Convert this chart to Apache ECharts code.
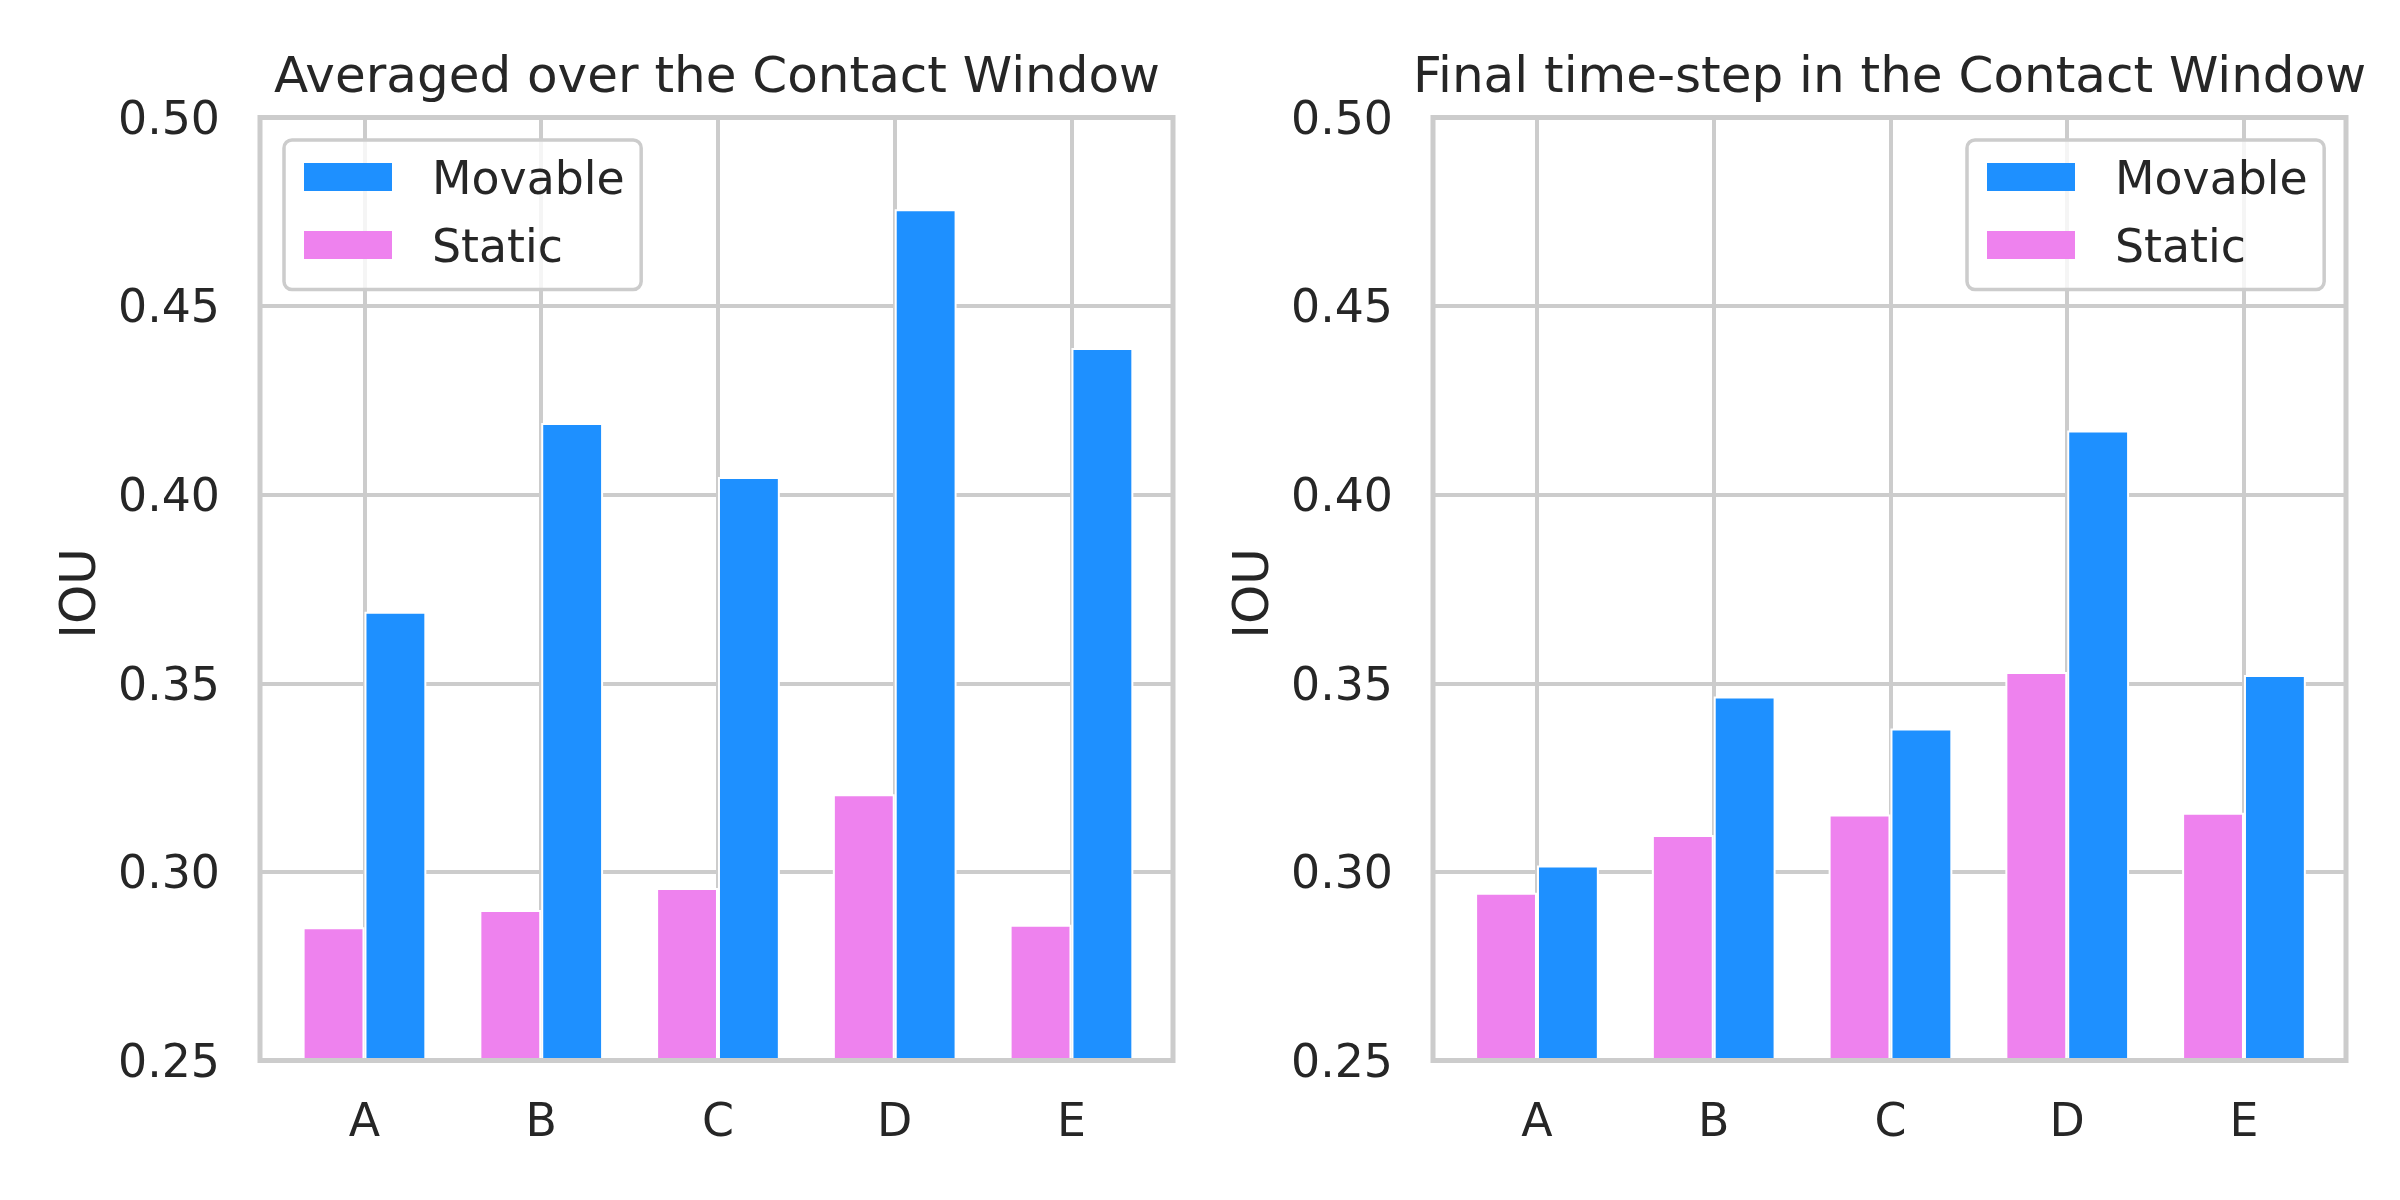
<!DOCTYPE html>
<html>
<head>
<meta charset="utf-8">
<script src="https://cdn.jsdelivr.net/npm/echarts@6/dist/echarts.min.js"></script>
<style>
html,body{margin:0;padding:0;background:#fff;}
#chart{width:2400px;height:1200px;}
</style>
</head>
<body>
<div id="chart"></div>
<script>
// ---- data ----
const categories = ['A', 'B', 'C', 'D', 'E'];
const avgMovable = [0.3690, 0.4190, 0.4047, 0.4757, 0.4389];
const avgStatic = [0.2853, 0.2899, 0.2957, 0.3206, 0.2860];
const finalMovable = [0.3017, 0.3465, 0.3380, 0.4170, 0.3522];
const finalStatic = [0.2945, 0.3098, 0.3152, 0.3530, 0.3157];
const yTicks = [0.25, 0.30, 0.35, 0.40, 0.45, 0.50];
const titles = ['Averaged over the Contact Window', 'Final time-step in the Contact Window'];
const yName = 'IOU';
const seriesNames = ['Movable', 'Static'];

// ---- styling ----
const FONT = 'DejaVu Sans', TXT = '#262626', GRIDC = '#cccccc', BLUE = '#1E90FF', PINK = '#EE82EE';
const TICK_FS = 45.8, TITLE_FS = 50;
const panels = [
  { frameLeft: 260, barLeft: 276.1, legendLeft: 284, titleX: 717, movable: avgMovable, stat: avgStatic },
  { frameLeft: 1433, barLeft: 1448.6, legendLeft: 1967, titleX: 1889.5, movable: finalMovable, stat: finalStatic }
];
const TOP = 117.5, H = 943, FRAME_W = 913, BAR_W = 883.75;

const grid = [], xAxis = [], yAxis = [], series = [], legend = [], title = [];
panels.forEach((p, i) => {
  const fg = i * 2, bg = i * 2 + 1;
  grid.push({ left: p.frameLeft, top: TOP, width: FRAME_W, height: H, show: true, borderColor: GRIDC, borderWidth: 5,
    backgroundColor: 'transparent', z: 5, outerBoundsMode: 'none' });
  grid.push({ left: p.barLeft, top: TOP, width: BAR_W, height: H, show: false, outerBoundsMode: 'none' });
  xAxis.push({ gridIndex: fg, type: 'value', min: 0, max: 1, show: false });
  xAxis.push({ gridIndex: bg, type: 'category', data: categories, boundaryGap: true,
    axisLine: { show: false }, axisTick: { show: false }, splitLine: { show: false },
    axisLabel: { fontFamily: FONT, fontSize: TICK_FS, color: TXT, margin: 41 } });
  yAxis.push({ gridIndex: fg, type: 'value', min: yTicks[0], max: yTicks[yTicks.length - 1], interval: 0.05,
    axisLine: { show: false }, axisTick: { show: false },
    splitLine: { show: true, lineStyle: { color: GRIDC, width: 4 } },
    axisLabel: { fontFamily: FONT, fontSize: TICK_FS, color: TXT, margin: 40, verticalAlign: 'top', lineHeight: 9,
      formatter: v => v.toFixed(2) },
    name: yName, nameLocation: 'middle', nameGap: 153, nameRotate: 90,
    nameTextStyle: { fontFamily: FONT, fontSize: TITLE_FS, color: TXT, padding: [0, 9, 0, 0] } });
  yAxis.push({ gridIndex: bg, type: 'value', min: yTicks[0], max: yTicks[yTicks.length - 1], show: false });
  // vertical grid lines through the category centres, behind the bars
  series.push({ name: '_xgrid', type: 'line', xAxisIndex: bg, yAxisIndex: bg, data: [], z: 1, silent: true, symbol: 'none',
    markLine: { silent: true, symbol: ['none', 'none'], z: 1, animation: false, label: { show: false },
      lineStyle: { color: GRIDC, width: 4, type: 'solid' }, data: categories.map(c => ({ xAxis: c })) } });
  series.push({ name: 'Static', type: 'bar', xAxisIndex: bg, yAxisIndex: bg, data: p.stat, barWidth: '35%', barGap: '0%', z: 2,
    itemStyle: { color: PINK, borderColor: '#ffffff', borderWidth: 2 } });
  series.push({ name: 'Movable', type: 'bar', xAxisIndex: bg, yAxisIndex: bg, data: p.movable, barWidth: '35%', barGap: '0%', z: 2,
    itemStyle: { color: BLUE, borderColor: '#ffffff', borderWidth: 2 } });
  legend.push({ data: seriesNames, orient: 'vertical', left: p.legendLeft, top: 140, itemWidth: 88, itemHeight: 38, itemGap: 22,
    icon: 'path://M0,0H88V28H0Z M0,38L1,38',
    itemStyle: { borderWidth: 0 },
    padding: [19, 16.5, 16.5, 20], backgroundColor: 'rgba(255,255,255,0.8)', borderColor: GRIDC, borderWidth: 3.5, borderRadius: 8,
    textStyle: { fontFamily: FONT, fontSize: TICK_FS, color: TXT, lineHeight: 46, padding: [0, 0, 0, 35] } });
  title.push({ text: titles[i], left: p.titleX, top: 54, textAlign: 'center', padding: 0,
    textStyle: { fontFamily: FONT, fontSize: TITLE_FS, fontWeight: 'normal', color: TXT, lineHeight: 50 } });
});

const chart = echarts.init(document.getElementById('chart'), null, { renderer: 'canvas', devicePixelRatio: 1 });
chart.setOption({ animation: false, backgroundColor: '#ffffff', title, legend, grid, xAxis, yAxis, series });
</script>
</body>
</html>
